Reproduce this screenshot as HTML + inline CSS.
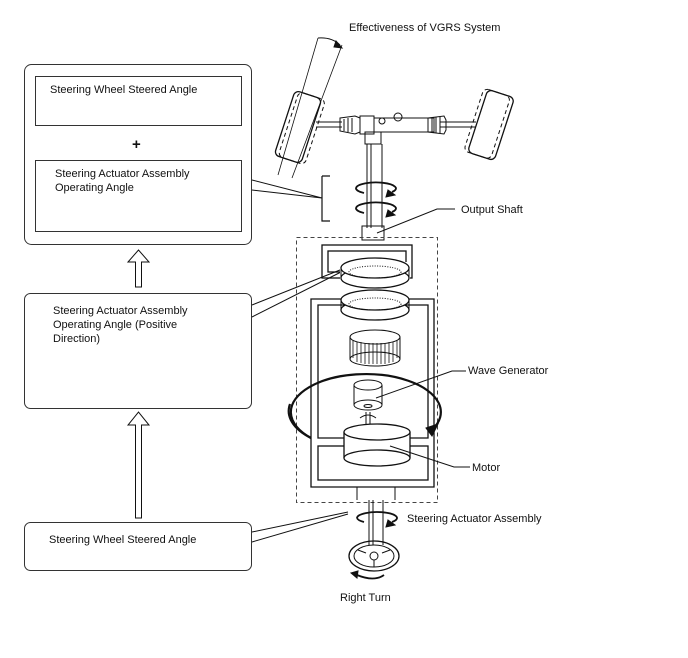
<!DOCTYPE html>
<html><head><style>
html,body{margin:0;padding:0;background:#fff;width:688px;height:658px;overflow:hidden}
svg text{font-family:"Liberation Sans",sans-serif;font-size:11px;fill:#111}
</style></head><body>
<svg width="688" height="658" viewBox="0 0 688 658" xmlns="http://www.w3.org/2000/svg" fill="none" stroke="#111" stroke-width="1">
<rect x="24.5" y="64.5" width="227" height="180" rx="7" stroke="#333"/>
<rect x="35.5" y="76.5" width="206" height="49" stroke="#333"/>
<rect x="35.5" y="160.5" width="206" height="71" stroke="#333"/>
<text x="50" y="93" stroke="none">Steering Wheel Steered Angle</text>
<text x="132" y="149" stroke="none" style="font-size:15px;font-weight:bold">+</text>
<text x="55" y="177" stroke="none">Steering Actuator Assembly</text>
<text x="55" y="191" stroke="none">Operating Angle</text>
<rect x="24.5" y="293.5" width="227" height="115" rx="6" stroke="#333"/>
<text x="53" y="314" stroke="none">Steering Actuator Assembly</text>
<text x="53" y="328" stroke="none">Operating Angle (Positive</text>
<text x="53" y="342" stroke="none">Direction)</text>
<rect x="24.5" y="522.5" width="227" height="48" rx="6" stroke="#333"/>
<text x="49" y="543" stroke="none">Steering Wheel Steered Angle</text>
<path d="M135.5 287 V262 H128 L138.5 250 L149 262 H141.5 V287 Z"/>
<path d="M135.5 518 V425 H128 L138.5 412 L149 425 H141.5 V518 Z"/>
<path d="M252 180 L322 198 M252 190 L322 198"/>
<path d="M322 176 H330 M322 176 V221 H330" stroke-width="1.2"/>
<path d="M252 305 L345 268 M252 317 L345 270"/>
<path d="M252 532 L348 512 M252 542 L348 514"/>
<path d="M318 38 L278 175 M342 45 L292 178" stroke-width="0.8"/>
<path d="M318 38 Q332 37 340 45"/>
<path d="M336 41 L342 48 L334 47 Z" fill="#111"/>
<g transform="rotate(18 298 127)">
<rect x="284" y="93" width="28" height="68" rx="5" stroke-width="1.3"/>
<rect x="288" y="93" width="28" height="68" rx="5" stroke-dasharray="4 3"/>
</g>
<g transform="rotate(18 491 125)">
<rect x="477" y="92" width="28" height="66" rx="5" stroke-width="1.3"/>
<rect x="473" y="92" width="28" height="66" rx="5" stroke-dasharray="4 3"/>
</g>
<path d="M316 122 H342 M316 127 H342 M440 122 H476 M440 127 H476"/>
<path d="M340 118 L355 116 L360 118 V132 L355 134 L340 131 Z"/>
<path d="M340 120 V130 M344 119 V131 M348 118 V132 M352 118 V132"/>
<rect x="360" y="116" width="14" height="18"/>
<rect x="374" y="118" width="60" height="14"/>
<circle cx="382" cy="121" r="3"/><circle cx="398" cy="117" r="4"/>
<path d="M428 118 L444 116 L446 120 V130 L444 134 L428 132 Z"/>
<path d="M432 118 V132 M436 117 V133 M440 117 V133"/>
<rect x="365" y="132" width="16" height="12"/>
<path d="M367 144 V228 M382 144 V228 M371 144 V228"/>
<rect x="362" y="226" width="22" height="14"/>
<path d="M356 188 A20 6 0 1 1 392 192" stroke-width="1.8"/>
<path d="M356 188 A20 6 0 0 0 364 193" stroke-width="1.8"/>
<path d="M388 190 L395 195 L386 197 Z" fill="#111"/>
<path d="M356 208 A20 6 0 1 1 392 212" stroke-width="1.8"/>
<path d="M356 208 A20 6 0 0 0 364 213" stroke-width="1.8"/>
<path d="M388 210 L395 215 L386 217 Z" fill="#111"/>
<path d="M455 209 H437 L377 233"/>
<text x="461" y="213" stroke="none">Output Shaft</text>
<rect x="296.5" y="237.5" width="141" height="265" stroke-dasharray="4 3" stroke="#444"/>
<rect x="322" y="245" width="90" height="33" stroke-width="1.3"/>
<rect x="328" y="251" width="78" height="21" stroke-width="1.3"/>
<rect x="340" y="262" width="70" height="18" fill="#fff" stroke="none"/>
<ellipse cx="375" cy="278" rx="34" ry="10" fill="#fff" stroke-width="1.3"/>
<path d="M341 268 V278 M409 268 V278"/>
<ellipse cx="375" cy="268" rx="34" ry="10" fill="#fff" stroke-width="1.3"/>
<ellipse cx="375" cy="272" rx="26" ry="6" stroke-dasharray="1 1.5"/>
<path d="M311 487 V299 H434 V487 Z" stroke-width="1.3"/>
<path d="M318 438 V305 H428 V438 Z" stroke-width="1.3"/>
<rect x="318" y="446" width="110" height="34" stroke-width="1.3"/>
<path d="M357 487 V500 M395 487 V500"/>
<ellipse cx="375" cy="310" rx="34" ry="10" fill="#fff" stroke-width="1.3"/>
<path d="M341 300 V310 M409 300 V310"/>
<ellipse cx="375" cy="300" rx="34" ry="10" fill="#fff" stroke-width="1.3"/>
<ellipse cx="375" cy="304" rx="26" ry="6" stroke-dasharray="1 1.5"/>
<rect x="350" y="335" width="50" height="26" fill="#fff" stroke="none"/>
<path d="M350 337 V359 M400 337 V359"/>
<ellipse cx="375" cy="359" rx="25" ry="7" fill="#fff"/>
<ellipse cx="375" cy="337" rx="25" ry="7" fill="#fff"/>
<path d="M353 340 V358 M357 342 V362 M361 342 V363 M365 343 V364 M369 343 V364 M373 343 V364 M377 343 V364 M381 343 V364 M385 343 V364 M389 342 V363 M393 342 V362 M397 340 V358" stroke-width="0.8"/>
<path d="M311 438 A75 38 0 1 1 432 430" stroke-width="2.2"/>
<path d="M290 404 A75 38 0 0 0 311 438" stroke-width="2.2"/>
<path d="M426 428 L438 424 L432 436 Z" fill="#111"/>
<path d="M354 385 V405 M382 385 V405"/>
<ellipse cx="368" cy="405" rx="14" ry="5" fill="#fff"/>
<ellipse cx="368" cy="385" rx="14" ry="5" fill="#fff"/>
<ellipse cx="368" cy="406" rx="4" ry="1.5"/>
<path d="M366 412 V425 M370 412 V425"/>
<path d="M360 418 Q368 412 376 418"/>
<rect x="344" y="432" width="66" height="26" fill="#fff" stroke="none"/>
<path d="M344 432 V458 M410 432 V458" stroke-width="1.3"/>
<ellipse cx="377" cy="458" rx="33" ry="8" fill="#fff" stroke-width="1.3"/>
<ellipse cx="377" cy="432" rx="33" ry="8" fill="#fff" stroke-width="1.3"/>
<path d="M466 371 H452 L376 398"/>
<text x="468" y="374" stroke="none">Wave Generator</text>
<path d="M470 467 H454 L390 446"/>
<text x="472" y="471" stroke="none">Motor</text>
<path d="M369 500 V545 M383 500 V545 M373 500 V545"/>
<path d="M357 518 A20 6 0 1 1 392 522" stroke-width="1.8"/>
<path d="M357 518 A20 6 0 0 0 364 522" stroke-width="1.8"/>
<path d="M388 520 L395 525 L386 527 Z" fill="#111"/>
<text x="407" y="522" stroke="none">Steering Actuator Assembly</text>
<ellipse cx="374" cy="556" rx="25" ry="15" stroke-width="1.3"/>
<ellipse cx="374" cy="556" rx="20" ry="11"/>
<circle cx="374" cy="556" r="4"/>
<path d="M366 553 L358 550 M382 553 L390 550 M374 560 V567"/>
<path d="M357 575 Q374 582 384 575" stroke-width="1.8"/>
<path d="M351 573 L358 571 L357 578 Z" fill="#111"/>
<text x="340" y="601" stroke="none">Right Turn</text>
<text x="349" y="31" stroke="none">Effectiveness of VGRS System</text>
</svg>
</body></html>
